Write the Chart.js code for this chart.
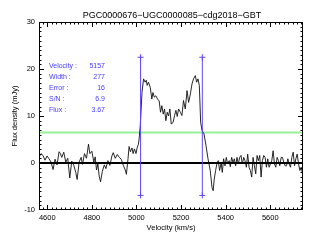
<!DOCTYPE html>
<html><head><meta charset="utf-8">
<script src="https://cdn.jsdelivr.net/npm/chart.js@4/dist/chart.umd.min.js"></script>
<style>html,body{margin:0;padding:0;background:#fff}canvas{display:block}</style>
</head><body>
<canvas id="c" width="314" height="244"></canvas>
<script>
// ---- data ----
const chartTitle = "PGC0000676\u2212UGC0000085\u2212cdg2018\u2212GBT";
const xTitle = "Velocity (km/s)";
const yTitle = "Flux density (mJy)";
const xRange = [4563, 5747];
const yRange = [-10, 30];
const xTickLabels = [4600, 4800, 5000, 5200, 5400, 5600];
const yTickLabels = [-10, 0, 10, 20, 30];
const velocity = [4563,4572,4581,4590,4599,4608,4617,4626,4635,4644,4653,4659,4665,4674,4683,4692,4701,4710,4719,4728,4734,4743,4752,4758,4767,4776,4785,4791,4800,4809,4815,4821,4827,4833,4839,4847,4856,4863,4872,4881,4890,4896,4905,4914,4923,4932,4941,4950,4955,4962,4967,4973,4980,4985,4991,4998,5003,5009,
5012,5017,5025,5032,5039,5044,5048,5054,5062,5069,5074,5080,5087,5095,5102,5108,5114,5120,5126,5132,5138,5144,5150,5156,5164,5171,5177,5183,5189,5197,5204,5211,5219,5227,5234,5242,5249,5256,5264,5270,5276,5282,5288,5294,5303,5312,5321,5327,
5331,5339,5344,5349,5355,5362,5367,5373,5380,5385,5391,5397,5403,5409,5416,5421,5427,5433,5439,5445,5451,5457,5463,5469,5475,5481,5487,5493,5499,5505,5511,5517,5523,5529,5535,5541,5547,5553,5559,5565,5571,5577,5583,5589,5595,5601,5607,5613,5619,5625,5631,5637,5643,5649,5655,5661,5667,5673,5679,5685,5691,5697,5703,5709,5715,5721,5727,5733,5739,5745];
const flux = [1.2,2.0,1.6,0.6,1.5,0.9,0.2,-1.4,0.8,-0.4,2.4,2.0,1.2,2.3,0.2,1.0,-3.2,0.4,-0.5,-2.0,-3.5,0.2,1.2,-0.3,2.0,1.0,4.0,2.0,2.5,0.2,1.3,-1.5,-0.2,-2.8,-4.0,-1.8,-0.4,-1.2,0.5,-0.5,1.5,2.2,1.0,1.8,1.2,0.8,-0.5,-1.5,-2.4,0.8,3.5,2.4,3.2,2.0,3.0,2.0,3.2,4.0,
5.1,7.9,15.0,17.9,17.2,17.6,16.5,17.2,16.1,13.6,15.0,14.0,14.3,13.6,13.2,10.8,12.2,10.4,11.5,9.0,10.8,10.0,11.5,8.3,8.6,10.1,11.2,9.9,11.5,10.8,10.1,13.3,11.5,15.4,12.9,14.7,16.8,17.9,18.6,17.2,17.9,16.5,8.7,6.9,6.2,3.7,0.9,-0.6,
-1.6,-5.2,-5.9,-3.4,-1.6,0.1,0.5,-1.6,0.1,-2.0,0.9,-0.6,1.2,-0.2,0.5,-0.8,1.2,0.1,0.9,-0.6,1.2,-0.2,1.2,1.6,-0.2,1.2,0.5,-0.9,1.9,-0.9,-1.6,-3.0,1.2,-0.6,-2.3,1.6,0.5,1.6,-3.0,0.5,1.6,1.2,-0.9,0.9,-0.9,-0.2,0.5,2.6,-0.2,-0.9,1.2,0.5,-0.6,1.2,1.2,0.1,-0.6,-0.6,0.9,-0.2,-0.9,1.2,2.3,-0.6,0.9,1.9,-0.2,-1.6,-0.9,-2.3];
const lineVelocity = 5157;
const lineWidthKms = 277;
const markerRange = [-6.9, 22.5];
const thresholdLevel = 6.5;
const infoLabels = ["Velocity :", "Width :", "Error :", "S/N :", "Flux :"];
const infoValues = ["5157", "277", "16", "6.9", "3.67"];

// ---- build datasets ----
const spectrum = velocity.map((v, i) => ({x: v, y: flux[i]}));
const edgeLow = lineVelocity - lineWidthKms / 2;
const edgeHigh = lineVelocity + lineWidthKms / 2;
const BLUE = 'rgb(92,70,255)';
const TEXTBLUE = 'rgb(70,60,255)';
const FONT = '"Liberation Sans", Arial, sans-serif';

const framePlugin = {
  id: 'frame',
  afterDatasetsDraw(chart) {
    const ctx = chart.ctx, a = chart.chartArea;
    const xs = chart.scales.x, ys = chart.scales.y;
    ctx.save();
    ctx.strokeStyle = '#000';
    ctx.lineWidth = 1;
    ctx.strokeRect(Math.round(a.left) + 0.5, Math.round(a.top) + 0.5,
                   Math.round(a.right - a.left) - 1, Math.round(a.bottom - a.top) - 1);
    ctx.beginPath();
    for (let v = 4580; v < xRange[1]; v += 20) {
      const px = Math.round(xs.getPixelForValue(v)) + 0.5;
      const len = (v % 200 === 0) ? 5 : 2.5;
      ctx.moveTo(px, a.bottom); ctx.lineTo(px, a.bottom - len);
      ctx.moveTo(px, a.top); ctx.lineTo(px, a.top + len);
    }
    for (let v = yRange[0] + 1; v < yRange[1]; v += 1) {
      const py = Math.round(ys.getPixelForValue(v)) + 0.5;
      const len = (v % 10 === 0) ? 5 : 2.5;
      ctx.moveTo(a.left, py); ctx.lineTo(a.left + len, py);
      ctx.moveTo(a.right, py); ctx.lineTo(a.right - len, py);
    }
    ctx.stroke();
    ctx.restore();
  },
  afterDraw(chart) {
    const ctx = chart.ctx, a = chart.chartArea;
    ctx.save();
    ctx.fillStyle = '#000';
    ctx.textBaseline = 'middle';
    ctx.textAlign = 'center';
    ctx.font = '9px ' + FONT;
    ctx.fillText(chartTitle, (a.left + a.right) / 2 + 1, 16);
    ctx.font = '7.5px ' + FONT;
    ctx.fillText(xTitle, (a.left + a.right) / 2, 228);
    ctx.save();
    ctx.translate(14.5, (a.top + a.bottom) / 2);
    ctx.rotate(-Math.PI / 2);
    ctx.fillText(yTitle, 0, 0);
    ctx.restore();
    ctx.fillStyle = TEXTBLUE;
    ctx.font = '7px ' + FONT;
    for (let i = 0; i < infoLabels.length; i++) {
      const y = 66.5 + i * 11;
      ctx.textAlign = 'left';
      ctx.fillText(infoLabels[i], 49, y);
      ctx.textAlign = 'right';
      ctx.fillText(infoValues[i], 105, y);
    }
    ctx.restore();
  }
};

new Chart(document.getElementById('c'), {
  type: 'line',
  data: {
    datasets: [
      { data: [{x: edgeLow, y: markerRange[0]}, {x: edgeLow, y: markerRange[1]}],
        borderColor: BLUE, backgroundColor: BLUE, borderWidth: 1,
        pointStyle: 'cross', pointRadius: 3, pointBorderWidth: 1, order: 0 },
      { data: [{x: edgeHigh, y: markerRange[0]}, {x: edgeHigh, y: markerRange[1]}],
        borderColor: BLUE, backgroundColor: BLUE, borderWidth: 1,
        pointStyle: 'cross', pointRadius: 3, pointBorderWidth: 1, order: 0 },
      { data: [{x: xRange[0], y: 0}, {x: xRange[1], y: 0}],
        borderColor: '#000', borderWidth: 2, pointRadius: 0, order: 1 },
      { data: spectrum, borderColor: '#111', borderWidth: 0.9,
        pointRadius: 0, tension: 0, order: 2 },
      { data: [{x: xRange[0], y: thresholdLevel}, {x: xRange[1], y: thresholdLevel}],
        borderColor: 'rgb(150,240,150)', borderWidth: 2, pointRadius: 0, order: 3 }
    ]
  },
  options: {
    responsive: false,
    animation: false,
    devicePixelRatio: 1,
    layout: { padding: { top: 22, right: 11, left: 0, bottom: 0 } },
    plugins: { legend: { display: false }, tooltip: { enabled: false }, title: { display: false } },
    elements: { line: { fill: false } },
    scales: {
      x: {
        type: 'linear', min: xRange[0], max: xRange[1],
        grid: { display: false, drawTicks: false }, border: { display: false },
        afterBuildTicks: s => { s.ticks = xTickLabels.map(v => ({value: v})); },
        afterFit: s => { s.height = 34; s.paddingLeft = 0; s.paddingRight = 0; },
        ticks: { padding: 3, maxRotation: 0, autoSkip: false, color: '#000',
                 font: { family: FONT, size: 7.5 }, callback: v => String(v) }
      },
      y: {
        type: 'linear', min: yRange[0], max: yRange[1],
        grid: { display: false, drawTicks: false }, border: { display: false },
        afterBuildTicks: s => { s.ticks = yTickLabels.map(v => ({value: v})); },
        afterFit: s => { s.width = 39; s.paddingTop = 0; s.paddingBottom = 0; },
        ticks: { padding: 4, autoSkip: false, color: '#000',
                 font: { family: FONT, size: 7.5 }, callback: v => String(v) }
      }
    }
  },
  plugins: [framePlugin]
});
</script>
</body></html>
